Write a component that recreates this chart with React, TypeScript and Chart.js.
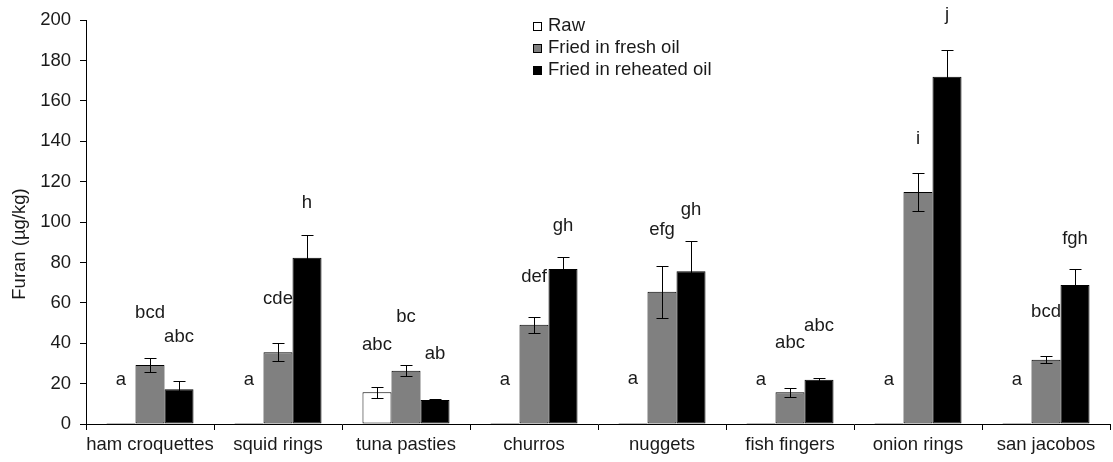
import React, { useEffect, useRef } from "react";
import { Chart, registerables } from "chart.js";

Chart.register(...registerables);

const categories = [
  "ham croquettes",
  "squid rings",
  "tuna pasties",
  "churros",
  "nuggets",
  "fish fingers",
  "onion rings",
  "san jacobos",
];

const seriesNames = ["Raw", "Fried in fresh oil", "Fried in reheated oil"];

const rawValues = [0.5, 0.5, 15.7, 0.5, 0.5, 0.5, 0.5, 0.5];
const freshValues = [29.2, 35.5, 26.4, 49.2, 65.5, 15.7, 114.9, 31.8];
const reheatedValues = [17.2, 82.3, 11.9, 76.7, 75.6, 21.9, 171.9, 68.8];

const rawErrors = [0, 0, 2.8, 0, 0, 0, 0, 0];
const freshErrors = [3.3, 4.5, 2.8, 4.0, 12.9, 2.3, 9.4, 1.8];
const reheatedErrors = [4.2, 11.3, 0.5, 6.0, 15.0, 1.0, 13.4, 8.0];

const rawLetters = ["a", "a", "abc", "a", "a", "a", "a", "a"];
const freshLetters = ["bcd", "cde", "bc", "def", "efg", "abc", "i", "bcd"];
const reheatedLetters = ["abc", "h", "ab", "gh", "gh", "abc", "j", "fgh"];

// heights (in µg/kg) at which the significance letters sit
const rawLetterHeights = [22, 22, 39.4, 22, 22.5, 22, 22, 22];
const freshLetterHeights = [55, 62, 53, 73, 96, 40, 141, 55.6];
const reheatedLetterHeights = [43, 109.5, 34.5, 98, 106, 48.5, 202.5, 91.6];

const yMin = 0;
const yMax = 200;
const yStep = 20;

const yTitle = "Furan (µg/kg)";

const FONT = "'Liberation Sans', Arial, sans-serif";
const TEXT = "#1a1a1a";

const errorBarPlugin = {
  id: "errorBars",
  afterDatasetsDraw(chart: any) {
    const ctx = chart.ctx;
    const y = chart.scales.y;
    ctx.save();
    ctx.strokeStyle = "#000";
    ctx.lineWidth = 1;
    chart.data.datasets.forEach((ds: any, i: number) => {
      const meta = chart.getDatasetMeta(i);
      meta.data.forEach((bar: any, j: number) => {
        const e = ds.errors[j];
        if (!e) return;
        const v = ds.data[j];
        const x = Math.round(bar.x) + 0.5;
        const yt = Math.round(y.getPixelForValue(v + e)) + 0.5;
        const yb = Math.round(y.getPixelForValue(v - e)) + 0.5;
        const cap = 6;
        ctx.beginPath();
        ctx.moveTo(x, yt);
        ctx.lineTo(x, yb);
        ctx.moveTo(x - cap, yt);
        ctx.lineTo(x + cap, yt);
        ctx.moveTo(x - cap, yb);
        ctx.lineTo(x + cap, yb);
        ctx.stroke();
      });
    });
    ctx.restore();
  },
};

const lettersPlugin = {
  id: "letters",
  afterDraw(chart: any) {
    const ctx = chart.ctx;
    const y = chart.scales.y;
    ctx.save();
    ctx.fillStyle = TEXT;
    ctx.font = `18.5px ${FONT}`;
    ctx.textAlign = "center";
    ctx.textBaseline = "middle";
    chart.data.datasets.forEach((ds: any, i: number) => {
      const meta = chart.getDatasetMeta(i);
      meta.data.forEach((bar: any, j: number) => {
        ctx.fillText(ds.letters[j], bar.x, y.getPixelForValue(ds.letterHeights[j]));
      });
    });
    ctx.restore();
  },
};

const legendPlugin = {
  id: "customLegend",
  afterDraw(chart: any) {
    const ctx = chart.ctx;
    ctx.save();
    ctx.font = `18.5px ${FONT}`;
    ctx.textBaseline = "middle";
    ctx.textAlign = "left";
    const x0 = 533;
    const y0 = 26;
    const gap = 22;
    chart.data.datasets.forEach((ds: any, i: number) => {
      const cy = y0 + i * gap;
      ctx.fillStyle = ds.backgroundColor;
      ctx.fillRect(x0, cy - 4, 8, 8);
      ctx.strokeStyle = "#000";
      ctx.lineWidth = 1;
      ctx.strokeRect(x0 + 0.5, cy - 3.5, 8, 8);
      ctx.fillStyle = TEXT;
      ctx.fillText(ds.label, x0 + 15, cy);
    });
    ctx.restore();
  },
};

const yTitlePlugin = {
  id: "yTitle",
  afterDraw(chart: any) {
    const ctx = chart.ctx;
    ctx.save();
    ctx.translate(20, 244);
    ctx.rotate(-Math.PI / 2);
    ctx.font = `18.5px ${FONT}`;
    ctx.fillStyle = TEXT;
    ctx.textAlign = "center";
    ctx.textBaseline = "middle";
    ctx.fillText(yTitle, 0, 0);
    ctx.restore();
  },
};

export default function App() {
  const ref = useRef<HTMLCanvasElement | null>(null);

  useEffect(() => {
    if (!ref.current) return;
    const common = {
      borderColor: "#000",
      borderWidth: 1,
      borderSkipped: false,
      categoryPercentage: 0.68,
      barPercentage: 1.0,
    };
    const chart = new Chart(ref.current, {
      type: "bar",
      data: {
        labels: categories,
        datasets: [
          {
            ...common,
            label: seriesNames[0],
            data: rawValues,
            backgroundColor: "#ffffff",
            errors: rawErrors,
            letters: rawLetters,
            letterHeights: rawLetterHeights,
          } as any,
          {
            ...common,
            label: seriesNames[1],
            data: freshValues,
            backgroundColor: "#808080",
            errors: freshErrors,
            letters: freshLetters,
            letterHeights: freshLetterHeights,
          } as any,
          {
            ...common,
            label: seriesNames[2],
            data: reheatedValues,
            backgroundColor: "#000000",
            errors: reheatedErrors,
            letters: reheatedLetters,
            letterHeights: reheatedLetterHeights,
          } as any,
        ],
      },
      options: {
        responsive: false,
        animation: false,
        layout: { padding: { top: 20, right: 3, left: 0, bottom: 0 } },
        plugins: {
          legend: { display: false },
          tooltip: { enabled: false },
          title: { display: false },
        },
        scales: {
          x: {
            grid: {
              display: true,
              drawOnChartArea: false,
              drawTicks: true,
              tickLength: 6,
              color: "#000",
              offset: true,
            },
            border: { display: true, color: "#000", width: 1 },
            ticks: {
              color: TEXT,
              font: { family: FONT, size: 18.5 },
              padding: 4,
              maxRotation: 0,
              autoSkip: false,
            },
            afterFit(scale: any) {
              scale.height = 38;
            },
          },
          y: {
            min: yMin,
            max: yMax,
            grid: {
              display: true,
              drawOnChartArea: false,
              drawTicks: true,
              tickLength: 6,
              color: "#000",
            },
            border: { display: true, color: "#000", width: 1 },
            ticks: {
              stepSize: yStep,
              color: TEXT,
              font: { family: FONT, size: 18.5 },
              padding: 9,
            },
            afterFit(scale: any) {
              scale.width = 86;
            },
          },
        },
      } as any,
      plugins: [errorBarPlugin, lettersPlugin, legendPlugin, yTitlePlugin],
    });
    return () => chart.destroy();
  }, []);

  return (
    <div style={{ position: "absolute", left: 0, top: 0, width: 1113, height: 462, background: "#fff" }}>
      <canvas ref={ref} width={1113} height={462} />
    </div>
  );
}
